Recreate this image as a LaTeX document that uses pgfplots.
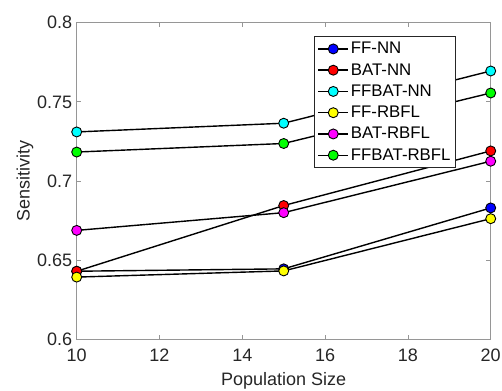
\documentclass[border=0pt]{standalone}
\usepackage{pgfplots}
\pgfplotsset{compat=1.18}
\usepackage{fontspec}
\setmainfont{Liberation Sans}
\definecolor{axgray}{RGB}{150,150,150}
\definecolor{txtgray}{RGB}{38,38,38}
\definecolor{mblue}{RGB}{0,0,255}
\definecolor{mred}{RGB}{255,0,0}
\definecolor{mcyan}{RGB}{0,255,255}
\definecolor{myellow}{RGB}{255,255,0}
\definecolor{mmagenta}{RGB}{255,0,255}
\definecolor{mgreen}{RGB}{0,255,0}
\begin{document}
\begin{tikzpicture}
\begin{axis}[
  at={(76.7pt,50.7pt)}, anchor=south west,
  width=414pt, height=316.6pt, scale only axis,
  xmin=10, xmax=20, ymin=0.6, ymax=0.80001,
  xtick={10,12,14,16,18,20},
  ytick={0.6,0.65,0.7,0.75,0.8},
  yticklabels={0.6,0.65,0.7,0.75,0.8},
  /pgf/number format/assume math mode=true,
  tick align=inside,
  major tick length=4.5pt,
  axis line style={axgray, line width=0.8pt},
  every tick/.style={axgray, line width=0.8pt},
  tick label style={font=\fontsize{18}{20}\selectfont, text=txtgray},
  xticklabel style={yshift=-6pt},
  yticklabel style={xshift=-1pt},
  label style={font=\fontsize{18}{20}\selectfont, text=txtgray},
  xlabel={Population Size},
  ylabel={Sensitivity},
  xlabel style={yshift=-4pt},
  ylabel style={yshift=-3pt},
  mplot/.style={black, solid, line width=1.4pt, mark=*, mark size=5pt,
     mark options={draw=black, solid, line width=0.9pt, fill=#1}},
  legend style={at={(0.916,0.958)}, anchor=north east,
     draw=txtgray, line width=0.8pt, fill=white,
     font=\fontsize{16.8}{19}\selectfont, text=black,
     inner xsep=3pt, inner ysep=4pt,
     row sep=4.2pt},
  legend cell align=left,
  legend image code/.code={
     \draw[mark repeat=2, mark phase=2, #1] plot coordinates {(0pt,0pt) (15pt,0pt) (30pt,0pt)};},
]
\addplot[mplot=mblue] coordinates {(10,0.6430) (15,0.6445) (20,0.6830)};
\addlegendentry{FF-NN}
\addplot[mplot=mred] coordinates {(10,0.6430) (15,0.6845) (20,0.7190)};
\addlegendentry{BAT-NN}
\addplot[mplot=mcyan] coordinates {(10,0.7310) (15,0.7365) (20,0.7695)};
\addlegendentry{FFBAT-NN}
\addplot[mplot=myellow] coordinates {(10,0.6393) (15,0.6432) (20,0.6762)};
\addlegendentry{FF-RBFL}
\addplot[mplot=mmagenta] coordinates {(10,0.6688) (15,0.6800) (20,0.7125)};
\addlegendentry{BAT-RBFL}
\addplot[mplot=mgreen] coordinates {(10,0.7183) (15,0.7237) (20,0.7556)};
\addlegendentry{FFBAT-RBFL}
\end{axis}
\pgfresetboundingbox
\path (0pt,0pt) rectangle (502pt,390pt);
\end{tikzpicture}
\end{document}
